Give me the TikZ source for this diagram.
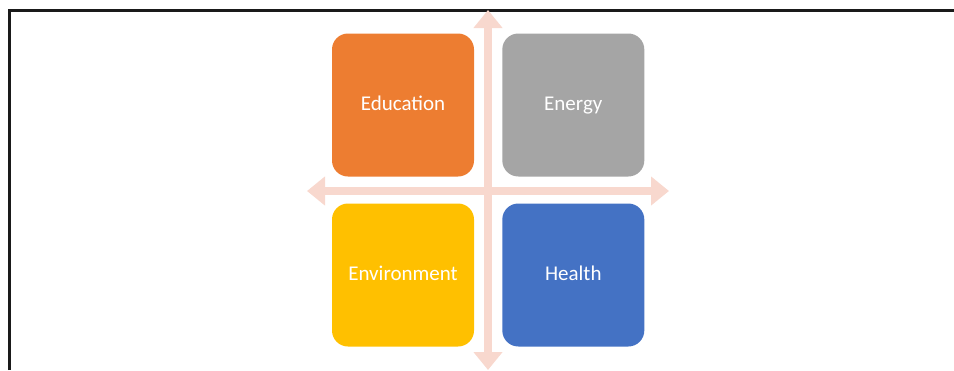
\documentclass[tikz,border=0pt]{standalone}
\usepackage{fontspec}
\setmainfont{Carlito}
\usetikzlibrary{arrows.meta}
\definecolor{carrot}{RGB}{237, 125, 49}
\definecolor{concrete}{RGB}{165, 165, 165}
\definecolor{sunflower}{RGB}{255, 192, 0}
\definecolor{belize}{RGB}{68, 114, 196}
\definecolor{peach}{RGB}{248, 216, 206}
\definecolor{framegray}{RGB}{26, 26, 26}

\begin{document}
\begin{tikzpicture}[x=1pt, y=-1pt,
  tile/.style={rounded corners=16pt, minimum width=142pt, minimum height=143pt, inner sep=0pt, text height=15pt, text depth=4.4pt, text=white, font=\fontsize{21}{25}\selectfont},
  crossarrow/.style={peach, line width=8pt, {Triangle[length=18pt, width=28pt]}-{Triangle[length=18pt, width=28pt]}}]
            \useasboundingbox                                   (0.00, 0.00) rectangle (954.00, 370.00);
            \draw[framegray, line width=3pt]                    (9.50, 370.00) -- (9.50, 10.00) -- (954.00, 10.00);
            \coordinate (north) at (488.00,  10.00);
            \coordinate (south) at (488.00, 370.00);
            \coordinate (west)  at (307.00, 191.00);
            \coordinate (east)  at (669.00, 191.00);
            \draw[crossarrow] (south) -- (north);
            \draw[crossarrow] (west)  -- (east);
            \node[tile, fill=carrot]    (education)   at (403.00, 105.00) {Education};
            \node[tile, fill=concrete]  (energy)      at (573.30, 105.00) {Energy};
            \node[tile, fill=sunflower] (environment) at (403.00, 275.00) {Environment};
            \node[tile, fill=belize]    (health)      at (573.30, 275.00) {Health};
\end{tikzpicture}
\end{document}
